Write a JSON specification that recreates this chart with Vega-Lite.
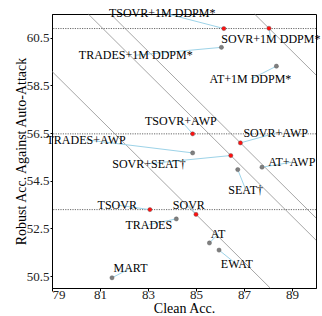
{
  "$schema": "https://vega.github.io/schema/vega-lite/v6.json",
  "autosize": "none",
  "width": 264,
  "height": 274,
  "padding": {"left": 52, "top": 14, "right": 6, "bottom": 28},
  "background": "white",
  "config": {
    "view": {"stroke": "black", "strokeWidth": 1},
    "font": "Liberation Serif",
    "axis": {
      "grid": false,
      "domainColor": "black",
      "tickColor": "black",
      "labelColor": "#222",
      "titleColor": "black",
      "labelFont": "Liberation Serif",
      "titleFont": "Liberation Serif",
      "labelFontSize": 13,
      "titleFontSize": 14,
      "titleFontWeight": "normal"
    }
  },
  "datasets": {
    "methods": [
      {"name": "TSOVR+1M DDPM*", "clean": 86.16, "robust": 60.89, "label_x": 83.59, "label_y": 61.56, "kind": "ours"},
      {"name": "SOVR+1M DDPM*", "clean": 88.04, "robust": 60.9, "label_x": 88.12, "label_y": 60.47, "kind": "ours"},
      {"name": "TRADES+1M DDPM*", "clean": 86.06, "robust": 60.1, "label_x": 82.49, "label_y": 59.77, "kind": "base"},
      {"name": "AT+1M DDPM*", "clean": 88.35, "robust": 59.31, "label_x": 87.27, "label_y": 58.76, "kind": "base"},
      {"name": "TSOVR+AWP", "clean": 84.86, "robust": 56.47, "label_x": 84.37, "label_y": 57.03, "kind": "ours"},
      {"name": "SOVR+AWP", "clean": 86.85, "robust": 56.09, "label_x": 88.32, "label_y": 56.5, "kind": "ours"},
      {"name": "TRADES+AWP", "clean": 84.86, "robust": 55.67, "label_x": 80.42, "label_y": 56.22, "kind": "base"},
      {"name": "SOVR+SEAT†", "clean": 86.45, "robust": 55.56, "label_x": 83.04, "label_y": 55.22, "kind": "ours"},
      {"name": "AT+AWP", "clean": 87.75, "robust": 55.07, "label_x": 88.99, "label_y": 55.28, "kind": "base"},
      {"name": "SEAT†", "clean": 86.74, "robust": 54.97, "label_x": 87.07, "label_y": 54.13, "kind": "base"},
      {"name": "TSOVR", "clean": 83.08, "robust": 53.29, "label_x": 81.72, "label_y": 53.48, "kind": "ours"},
      {"name": "SOVR", "clean": 85.0, "robust": 53.09, "label_x": 84.7, "label_y": 53.48, "kind": "ours"},
      {"name": "TRADES", "clean": 84.18, "robust": 52.9, "label_x": 83.03, "label_y": 52.66, "kind": "base"},
      {"name": "AT", "clean": 85.56, "robust": 51.89, "label_x": 85.92, "label_y": 52.26, "kind": "base"},
      {"name": "EWAT", "clean": 85.96, "robust": 51.59, "label_x": 86.7, "label_y": 50.99, "kind": "base"},
      {"name": "MART", "clean": 81.5, "robust": 50.43, "label_x": 82.27, "label_y": 50.83, "kind": "base"}
    ],
    "hlines": [
      {"robust": 60.89},
      {"robust": 56.47},
      {"robust": 53.29}
    ],
    "dlines": [
      {"x_start": 79, "y_start": 59.09, "x_end": 88.09, "y_end": 50},
      {"x_start": 80.51, "y_start": 61.5, "x_end": 90, "y_end": 52.01},
      {"x_start": 81.44, "y_start": 61.5, "x_end": 90, "y_end": 52.94},
      {"x_start": 87.44, "y_start": 61.5, "x_end": 90, "y_end": 58.94}
    ]
  },
  "layer": [
    {
      "data": {"name": "hlines"},
      "mark": {"type": "rule", "color": "#444", "strokeWidth": 0.8, "strokeDash": [1.2, 1.2]},
      "encoding": {
        "y": {"field": "robust", "type": "quantitative", "scale": {"domain": [50, 61.5], "nice": false, "zero": false}}
      }
    },
    {
      "data": {"name": "dlines"},
      "mark": {"type": "rule", "color": "#808080", "strokeWidth": 0.7},
      "encoding": {
        "x": {"field": "x_start", "type": "quantitative"},
        "y": {"field": "y_start", "type": "quantitative"},
        "x2": {"field": "x_end"},
        "y2": {"field": "y_end"}
      }
    },
    {
      "data": {"name": "methods"},
      "mark": {"type": "rule", "color": "#9dd3e8", "strokeWidth": 1},
      "encoding": {
        "x": {"field": "clean", "type": "quantitative"},
        "y": {"field": "robust", "type": "quantitative"},
        "x2": {"field": "label_x"},
        "y2": {"field": "label_y"}
      }
    },
    {
      "data": {"name": "methods"},
      "mark": {"type": "circle", "size": 18, "opacity": 1, "stroke": "#555", "strokeWidth": 0.4},
      "encoding": {
        "x": {
          "field": "clean", "type": "quantitative",
          "scale": {"domain": [79, 90], "nice": false, "zero": false},
          "axis": {"values": [79, 81, 83, 85, 87, 89], "title": "Clean Acc.", "tickSize": 3, "labelPadding": -3, "titlePadding": 0}
        },
        "y": {
          "field": "robust", "type": "quantitative",
          "scale": {"domain": [50, 61.5], "nice": false, "zero": false},
          "axis": {"values": [50.5, 52.5, 54.5, 56.5, 58.5, 60.5], "format": ".1f", "title": "Robust Acc. Against Auto-Attack", "tickSize": 2, "labelPadding": 1, "titlePadding": -2}
        },
        "color": {
          "field": "kind", "type": "nominal",
          "scale": {"domain": ["ours", "base"], "range": ["#ff1010", "#7f7f7f"]},
          "legend": null
        }
      }
    },
    {
      "data": {"name": "methods"},
      "mark": {"type": "text", "font": "Liberation Serif", "fontSize": 12, "color": "black", "align": "center", "baseline": "middle"},
      "encoding": {
        "x": {"field": "label_x", "type": "quantitative"},
        "y": {"field": "label_y", "type": "quantitative"},
        "text": {"field": "name"}
      }
    }
  ]
}
